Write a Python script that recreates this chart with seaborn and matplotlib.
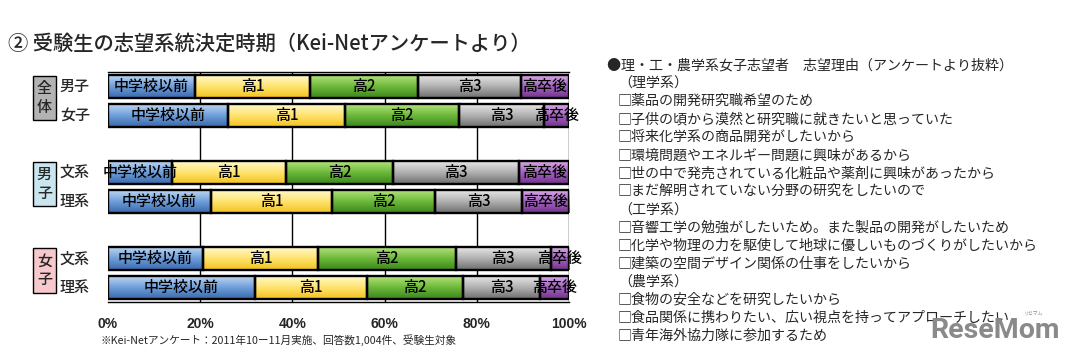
import numpy as np
import pandas as pd
import seaborn as sns
import matplotlib.pyplot as plt
from matplotlib.colors import LinearSegmentedColormap

# データ（グラフから読み取り、%）
row_labels = ["男子", "女子", "文系", "理系", "文系", "理系"]
row_pos = [0, 1, 3, 4, 6, 7]
groups = ["全\n体", "男\n子", "女\n子"]
group_pos = [0.5, 3.5, 6.5]
group_colors = ["#b3b3b3", "#c9e5ee", "#f7c9cd"]
stages = ["中学校以前", "高1", "高2", "高3", "高卒後"]
shares = {
    "中学校以前": [18.8, 26.1, 13.8, 22.3, 20.6, 31.9],
    "高1": [25.1, 25.3, 24.9, 26.3, 25.0, 24.3],
    "高2": [23.3, 24.7, 23.1, 22.4, 29.9, 20.7],
    "高3": [22.4, 18.5, 27.4, 18.8, 20.5, 16.9],
    "高卒後": [10.4, 5.4, 10.8, 10.2, 4.0, 6.2],
}
# 上(明) → 中 → 下(暗) のグラデーション
stage_colors = {
    "中学校以前": ["#bcd5f2", "#6e9ed9", "#3a68ad"],
    "高1": ["#fff9cc", "#ffe36e", "#f2c21e"],
    "高2": ["#b2e27a", "#6cb83a", "#3c861c"],
    "高3": ["#e6e6e6", "#b0b0b0", "#6e6e6e"],
    "高卒後": ["#d9a8e6", "#a261c0", "#74358c"],
}
xticks = [0, 20, 40, 60, 80, 100]
xtick_labels = ["0%", "20%", "40%", "60%", "80%", "100%"]

title = "② 受験生の志望系統決定時期（Kei-Netアンケートより）"
note = "※Kei-Netアンケート：2011年10ー11月実施、回答数1,004件、受験生対象"
reasons = [
    "●理・工・農学系女子志望者　志望理由（アンケートより抜粋）",
    "（理学系）",
    "□薬品の開発研究職希望のため",
    "□子供の頃から漠然と研究職に就きたいと思っていた",
    "□将来化学系の商品開発がしたいから",
    "□環境問題やエネルギー問題に興味があるから",
    "□世の中で発売されている化粧品や薬剤に興味があったから",
    "□まだ解明されていない分野の研究をしたいので",
    "（工学系）",
    "□音響工学の勉強がしたいため。また製品の開発がしたいため",
    "□化学や物理の力を駆使して地球に優しいものづくりがしたいから",
    "□建築の空間デザイン関係の仕事をしたいから",
    "（農学系）",
    "□食物の安全などを研究したいから",
    "□食品関係に携わりたい、広い視点を持ってアプローチしたい",
    "□青年海外協力隊に参加するため",
]

# 累積値の表
rows = []
for i, p in enumerate(row_pos):
    start = 0.0
    for s in stages:
        v = shares[s][i]
        rows.append({"pos": p, "stage": s, "start": start, "value": v, "end": start + v})
        start += v
df = pd.DataFrame(rows)

sns.set_style("white")
plt.rcParams['font.family'] = ['Noto Sans CJK JP', 'DejaVu Sans']

fig = plt.figure(figsize=(10.65, 3.51), dpi=100)
ax = fig.add_axes([108 / 1065, 1 - 302 / 351, 461 / 1065, 230 / 351])

for s in stages:
    sub = df[df.stage == s]
    n0 = len(ax.patches)
    sns.barplot(data=sub, x="end", y="pos", orient="h", native_scale=True,
                color=stage_colors[s][1], width=0.8, edgecolor="black",
                linewidth=1.7, ax=ax)
    cmap = LinearSegmentedColormap.from_list(s, stage_colors[s])
    for patch in ax.patches[n0:]:
        yc = patch.get_y() + patch.get_height() / 2
        r = sub.iloc[int(np.argmin(np.abs(sub.pos.values - yc)))]
        patch.set_x(r.start)
        patch.set_width(r.value)
        y0, h = patch.get_y(), patch.get_height()
        im = ax.imshow(np.linspace(0, 1, 64).reshape(-1, 1), cmap=cmap,
                       extent=(r.start, r.end, y0 + h, y0), aspect="auto",
                       interpolation="bicubic", zorder=1.9)
        im.set_clip_path(patch)
        patch.set_facecolor("none")
        patch.set_zorder(2)
        ax.text(r.start + r.value / 2, r.pos, s, ha="center", va="center",
                fontsize=10.8, fontweight="medium", color="black", zorder=3)

ax.set_xlim(0, 100)
ax.set_ylim(7.5, -0.5)
ax.set_xticks(xticks)
ax.set_xticklabels(xtick_labels, family="Liberation Sans", fontweight="bold",
                   fontsize=10)
ax.tick_params(axis="x", length=0, pad=11)
ax.set_yticks([])
ax.set_xlabel("")
ax.set_ylabel("")
ax.grid(axis="x", color="black", linewidth=1)
ax.xaxis.get_gridlines()[0].set_visible(False)
ax.set_axisbelow(True)
for side in ["left", "right"]:
    ax.spines[side].set_visible(False)
for side in ["top", "bottom"]:
    ax.spines[side].set_color("black")
    ax.spines[side].set_linewidth(1)

# 行ラベル・グループラベル
for lab, p in zip(row_labels, row_pos):
    ax.text(-0.072, p, lab, transform=ax.get_yaxis_transform(), ha="center",
            va="center", fontsize=10.8, fontweight="medium")
for g, p, c in zip(groups, group_pos, group_colors):
    ax.text(-0.138, p - 0.1, g, transform=ax.get_yaxis_transform(), ha="center",
            va="center", fontsize=10.8, fontweight="medium", linespacing=1.15,
            bbox=dict(boxstyle="square,pad=0.28", fc=c, ec="black", lw=1))

fig.text(8 / 1065, 1 - 44 / 351, title, fontsize=14.6, fontweight="medium",
         va="center", ha="left")
fig.text(100 / 1065, 1 - 340 / 351, note, fontsize=7.7, va="center", ha="left")

for k, line in enumerate(reasons):
    x = 607 if k == 0 else 618
    fig.text(x / 1065, 1 - (65 + 18.05 * k) / 351, line, fontsize=10.1,
             va="center", ha="left")

fig.text(995 / 1065, 1 - 331 / 351, "ReseMom", family="Roboto", fontweight="bold",
         fontsize=20.5, color="#8a8a8a", ha="center", va="center")
fig.text(1034 / 1065, 1 - 313 / 351, "リセマム", fontsize=3.5, color="#8a8a8a",
         ha="center", va="center")

fig.savefig("out.png", dpi=100)
